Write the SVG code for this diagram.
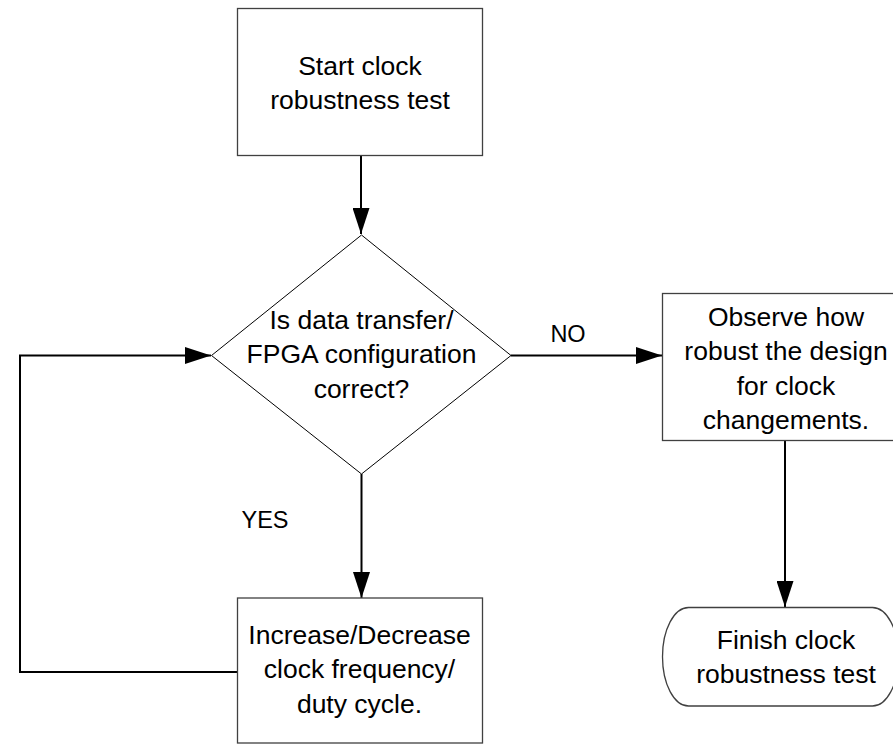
<svg xmlns="http://www.w3.org/2000/svg" width="893" height="744" viewBox="0 0 893 744">
  <style>
    .box { fill: #ffffff; stroke: #404040; stroke-width: 1.3; }
    .dec { fill: #ffffff; stroke: #000000; stroke-width: 1; }
    .txt { font-family: "Liberation Sans", Arial, sans-serif; font-size: 26.5px; fill: #000000; text-anchor: middle; }
    .lbl { font-family: "Liberation Sans", Arial, sans-serif; font-size: 23.5px; fill: #000000; text-anchor: middle; }
    .wire { fill: none; stroke: #000000; stroke-width: 2; marker-end: url(#arrow); }
  </style>
  <defs>
    <marker id="arrow" markerUnits="userSpaceOnUse" markerWidth="26" markerHeight="17" refX="26" refY="8.5" orient="auto">
      <path d="M0,0 L26,8.5 L0,17 Z" fill="#000000"/>
    </marker>
  </defs>

  <rect width="893" height="744" fill="#ffffff"/>

  <!-- connectors -->
  <g id="connectors">
    <path class="wire" d="M361,155 V234"/>
    <path class="wire" d="M511,355.5 H662"/>
    <path class="wire" d="M361.5,474 V598"/>
    <path class="wire" d="M237,672 H20 V355.5 H211"/>
    <path class="wire" d="M785,441 V607"/>
  </g>

  <!-- start -->
  <g id="start">
    <rect class="box" x="237.5" y="8.5" width="245" height="147"/>
    <text class="txt" x="360" y="75">Start clock</text>
    <text class="txt" x="360" y="108.5">robustness test</text>
  </g>

  <!-- decision -->
  <g id="check">
    <polygon class="dec" points="361.5,235 511,355.5 361.5,474 211.5,355.5"/>
    <text class="txt" x="361.5" y="329">Is data transfer/</text>
    <text class="txt" x="361.5" y="363">FPGA configuration</text>
    <text class="txt" x="361.5" y="397.5">correct?</text>
  </g>

  <!-- observe -->
  <g id="observe">
    <rect class="box" x="662.5" y="293.5" width="250" height="147"/>
    <text class="txt" x="786" y="325.5">Observe how</text>
    <text class="txt" x="786" y="360">robust the design</text>
    <text class="txt" x="786" y="394.5">for clock</text>
    <text class="txt" x="786" y="429">changements.</text>
  </g>

  <!-- adjust -->
  <g id="adjust">
    <rect class="box" x="237.5" y="598" width="245" height="145"/>
    <text class="txt" x="359.5" y="643.5">Increase/Decrease</text>
    <text class="txt" x="359.5" y="678">clock frequency/</text>
    <text class="txt" x="359.5" y="712.5">duty cycle.</text>
  </g>

  <!-- finish -->
  <g id="finish">
    <rect class="box" x="662.5" y="607.5" width="236" height="98.5" rx="26" ry="49.25"/>
    <text class="txt" x="786" y="648.5">Finish clock</text>
    <text class="txt" x="786" y="683">robustness test</text>
  </g>

  <!-- branch labels -->
  <g id="labels">
    <text class="lbl" x="568" y="341.5">NO</text>
    <text class="lbl" x="265" y="528">YES</text>
  </g>
</svg>
